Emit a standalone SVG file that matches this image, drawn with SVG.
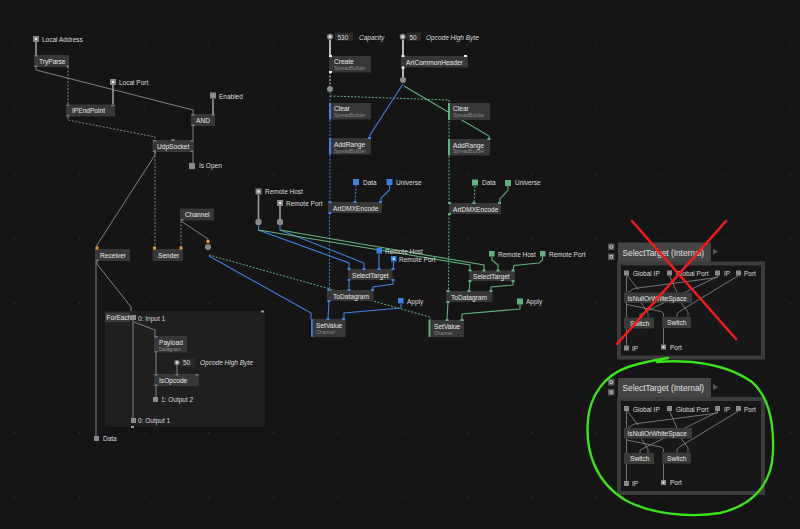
<svg xmlns="http://www.w3.org/2000/svg" width="800" height="529" viewBox="0 0 800 529">
<defs>
<pattern id="grid" x="-17.3" y="12.7" width="64.6" height="64.6" patternUnits="userSpaceOnUse">
<rect x="31.8" y="31.8" width="1.1" height="1.1" fill="#3a3a3a"/>
</pattern>
<style>
.n{fill:#373737}
.t{font-family:"Liberation Sans",Arial,sans-serif;font-size:6.6px;fill:#e8e8e8}
.s{font-family:"Liberation Sans",Arial,sans-serif;font-size:5px;fill:#8a8a8a}
.l{font-family:"Liberation Sans",Arial,sans-serif;font-size:6.5px;fill:#dcdcdc}
.it{font-style:italic}
.io{fill:#8a8a8a}
.iob{fill:#3f7fe0}
.iog{fill:#62b07e}
.dot{fill:#f0f0f0}
.p{fill:#7a7a7a}
.pw{fill:#f0f0f0}
.pb{fill:#3f7fe0}
.pg{fill:#62b07e}
.po{fill:#e8a020}
.w{fill:none;stroke:#8c8c8c;stroke-width:0.9}
.wt{fill:none;stroke:#9a9a9a;stroke-width:1.6}
.wv{fill:none;stroke:#c8c8c8;stroke-width:1.8}
.wd{fill:none;stroke:#8c8c8c;stroke-width:0.9;stroke-dasharray:2 1.5}
.wdw{fill:none;stroke:#dcdcdc;stroke-width:1;stroke-dasharray:2 1.5}
.b{fill:none;stroke:#3f7fe0;stroke-width:1.1}
.bd{fill:none;stroke:#3f7fe0;stroke-width:1;stroke-dasharray:2 1.5}
.g{fill:none;stroke:#62b07e;stroke-width:1.1}
.gd{fill:none;stroke:#62b07e;stroke-width:1;stroke-dasharray:2 1.5}
.pw2{fill:none;stroke:#8a8a8a;stroke-width:0.8}
.val{fill:#2a2a2a}
.circ{fill:#8a8a8a}
</style>
</defs>
<rect width="800" height="529" fill="#151515"/>
<rect width="800" height="529" fill="url(#grid)"/>

<!-- ForEach region background -->
<g id="foreach-region">
<rect x="105" y="311" width="160" height="116" fill="#1f1f1f"/>
<rect x="261" y="310.5" width="3" height="2" fill="#9a9a9a"/>
<rect x="131" y="426" width="3" height="2" fill="#9a9a9a"/>
</g>

<g id="connectors">
<path class="wt" d="M36,42 V55"/>
<path class="w" d="M36,67 V70 L193,110 V114"/>
<path class="wd" d="M68,67 V104"/>
<path class="wt" d="M113,85 V104"/>
<path class="wd" d="M68,117 V120 L155,137 V140"/>
<path class="wt" d="M213,99 V114"/>
<path class="w" d="M193,126 V140"/>
<path class="w" d="M193,152 V163"/>
<path class="w" d="M155,152 V155 L97,245 V248"/>
<path class="wd" d="M155,152 V248"/>
<path class="wd" d="M181,221 V248"/>
<path class="w" d="M181,221 L208,239 V241"/>
<path class="w" d="M97,261 V264 L131,307 V311"/>
<path class="w" d="M96,261 V436"/>
<path class="w" d="M133,320 V418"/>
<path class="w" d="M134,322 L155,330 V336"/>
<path class="w" d="M156,352 V374"/>
<path class="w" d="M177,365 V374"/>
<path class="w" d="M156,386 V397"/>
<path class="gd" d="M209,255 L430,317 V320"/>
<path class="b" d="M209,256 L311,313 V319"/>
<path class="wv" d="M330,40 V56"/>
<path class="wdw" d="M330,72 V86"/>
<path class="bd" d="M330,92 V202"/>
<path class="bd" d="M329.5,213 V290"/>
<path class="gd" d="M330,96 L449,100 V203"/>
<path class="gd" d="M449,214 L448.5,291"/>
<path class="wv" d="M403,40 V56"/>
<path class="wv" d="M403,67.5 V77"/>
<path class="b" d="M403,84 L370,135 V138"/>
<path class="g" d="M404,86 L489,136 V139"/>
<path class="bd" d="M356,185 L355,202"/>
<path class="b" d="M389.5,185 V190 L381,198 V202"/>
<path class="gd" d="M475,186 L474,203"/>
<path class="g" d="M508,186 V190 L500,199 V203"/>
<path class="wt" d="M258.5,195 V219"/>
<path class="wt" d="M280,206 V219"/>
<path class="b" d="M258.5,225 V230 L349,263 V269"/>
<path class="b" d="M280,225 V230 L364,263 V269"/>
<path class="g" d="M258.5,230 L470,265 V270.5"/>
<path class="g" d="M280,230 L484,265 V270.5"/>
<path class="b" d="M379,253.5 V269"/>
<path class="b" d="M393.5,261 V269"/>
<path class="b" d="M349,280 V290"/>
<path class="b" d="M393,280 V284 L373,287 V290"/>
<path class="b" d="M401,304 V308 L344,313 V319"/>
<path class="b" d="M329,301 L328,319"/>
<path class="g" d="M492,256.5 V260 L498,265 V270.5"/>
<path class="g" d="M542.5,256.5 V260 L539,263 L514,265.5 L513,270.5"/>
<path class="g" d="M470,281 L469,291"/>
<path class="g" d="M513,281 V285 L491,287 V291"/>
<path class="g" d="M520,304.5 V309 L462,314 V320"/>
<path class="g" d="M448,302 L447,320"/>
</g>

<g id="local-address"><rect class="io" x="33" y="36" width="6" height="6"/><rect class="dot" x="35" y="38" width="2" height="2"/><text class="l" x="42" y="41.5">Local Address</text></g>
<g id="tryparse"><rect class="n" x="34" y="55" width="35" height="12"/><rect class="p" x="34.5" y="55" width="3" height="1.5"/><rect class="p" x="34.5" y="65.5" width="3" height="1.5"/><rect class="p" x="66" y="65.5" width="3" height="1.5"/><text class="t" x="39" y="63.5">TryParse</text></g>
<g id="local-port"><rect class="io" x="110" y="79" width="6" height="6"/><rect class="dot" x="112" y="81" width="2" height="2"/><text class="l" x="119" y="84.5">Local Port</text></g>
<g id="ipendpoint"><rect class="n" x="66" y="104.5" width="49" height="12"/><rect class="p" x="66.5" y="104.5" width="3" height="1.5"/><rect class="p" x="111.5" y="104.5" width="3" height="1.5"/><rect class="p" x="66.5" y="115" width="3" height="1.5"/><text class="t" x="72" y="113">IPEndPoint</text></g>
<g id="enabled"><rect class="io" x="210" y="92.5" width="6" height="6"/><text class="l" x="219" y="98.5">Enabled</text></g>
<g id="and"><rect class="n" x="191" y="114" width="24" height="12"/><rect class="p" x="191.5" y="114" width="3" height="1.5"/><rect class="p" x="211.5" y="114" width="3" height="1.5"/><rect class="p" x="191.5" y="124.5" width="3" height="1.5"/><text class="t" x="196" y="122.5">AND</text></g>
<g id="udpsocket"><rect class="n" x="152.5" y="140" width="41.5" height="12"/><rect class="p" x="153" y="140" width="3" height="1.5"/><rect class="p" x="171.5" y="139" width="3" height="2"/><rect class="p" x="190.5" y="140" width="3" height="1.5"/><rect class="p" x="153" y="150.5" width="3" height="1.5"/><rect class="p" x="190.5" y="150.5" width="3" height="1.5"/><text class="t" x="157" y="149">UdpSocket</text></g>
<g id="is-open"><rect class="io" x="189" y="163" width="6" height="6"/><text class="l" x="199" y="168">Is Open</text></g>
<g id="channel"><rect class="n" x="180" y="208.5" width="34" height="12"/><rect class="p" x="180.5" y="219" width="3" height="1.5"/><text class="t" x="185" y="217">Channel</text></g>
<g id="channel-pad"><rect class="po" x="206.5" y="240" width="3" height="3"/><circle class="circ" cx="208" cy="247" r="3"/></g>
<g id="receiver"><rect class="n" x="95" y="249" width="35" height="12"/><rect class="po" x="95.5" y="246.5" width="3" height="3"/><rect class="p" x="95.5" y="259.5" width="3" height="1.5"/><text class="t" x="100" y="257.5">Receiver</text></g>
<g id="sender"><rect class="n" x="152.5" y="249" width="30.5" height="12"/><rect class="po" x="153" y="246.5" width="3" height="3"/><rect class="po" x="179.5" y="246.5" width="3" height="3"/><text class="t" x="158" y="257.5">Sender</text></g>

<g id="foreach"><rect x="105" y="312.5" width="25.5" height="9.5" fill="#3a3a3a"/><text class="t" x="106.5" y="320" font-size="6px">ForEach</text></g>
<g id="input1"><rect class="io" x="131" y="315" width="5" height="5"/><text class="l" x="138" y="320.5">0: Input 1</text></g>
<g id="payload"><rect class="n" x="154" y="336" width="33" height="16.5"/><rect class="p" x="154.5" y="336" width="3" height="1.5"/><rect class="p" x="154.5" y="351" width="3" height="1.5"/><text class="t" x="159" y="344.5">Payload</text><text class="s" x="159" y="350.5">Datagram</text></g>
<g id="opcode-io"><circle class="circ" cx="177" cy="362.5" r="2.6"/><circle class="dot" cx="177" cy="362.5" r="1.1"/><rect class="val" x="180" y="358.5" width="15" height="8.5"/><text class="l" x="183" y="365.3">50</text><text class="l it" x="200" y="365.3">Opcode High Byte</text></g>
<g id="isopcode"><rect class="n" x="154" y="374" width="45" height="12"/><rect class="p" x="154.5" y="374" width="3" height="1.5"/><rect class="p" x="175.5" y="374" width="3" height="1.5"/><rect class="p" x="195.5" y="374" width="3" height="1.5"/><rect class="p" x="154.5" y="384.5" width="3" height="1.5"/><text class="t" x="159" y="382.5">IsOpcode</text></g>
<g id="output2"><rect class="io" x="153" y="397" width="5" height="5"/><text class="l" x="161" y="401.5">1: Output 2</text></g>
<g id="output1"><rect class="io" x="131" y="418" width="5" height="5"/><text class="l" x="138" y="423">0: Output 1</text></g>
<g id="data-out"><rect class="io" x="94" y="436" width="5" height="5"/><text class="l" x="103" y="441">Data</text></g>

<g id="capacity"><circle class="circ" cx="330" cy="36.7" r="3"/><circle class="dot" cx="330" cy="36.7" r="1.2"/><rect class="val" x="335" y="32.5" width="18" height="8.5"/><text class="l" x="337.5" y="39.5">530</text><text class="l it" x="359" y="39.5">Capacity</text></g>
<g id="create"><rect class="n" x="329" y="56" width="42" height="16.5"/><rect class="pw" x="329" y="55" width="3" height="2"/><rect class="pw" x="329" y="71" width="3" height="2"/><text class="t" x="334" y="64">Create</text><text class="s" x="334" y="70">SpreadBuilder</text></g>
<g id="create-pad"><circle class="circ" cx="330" cy="89" r="3"/></g>
<g id="opcode-hb"><circle class="circ" cx="402.7" cy="36.7" r="3"/><circle class="dot" cx="402.7" cy="36.7" r="1.2"/><rect class="val" x="406.5" y="32.5" width="14.5" height="8.5"/><text class="l" x="409.5" y="39.5">50</text><text class="l it" x="426" y="39.5">Opcode High Byte</text></g>
<g id="artcommonheader"><rect class="n" x="401" y="56" width="67" height="11.5"/><rect class="pw" x="401.5" y="55" width="3" height="2"/><rect class="pw" x="464" y="55" width="3" height="2"/><rect class="pw" x="401.5" y="66.5" width="3" height="2"/><text class="t" x="406" y="64.5">ArtCommonHeader</text></g>
<g id="ach-pad"><circle class="circ" cx="403" cy="80" r="3"/></g>

<g id="clear-b"><rect class="n" x="329" y="103" width="42" height="16.5"/><rect class="pb" x="329" y="103" width="2" height="16.5"/><text class="t" x="334" y="111">Clear</text><text class="s" x="334" y="117">SpreadBuilder</text></g>
<g id="addrange-b"><rect class="n" x="329" y="138" width="42" height="16.5"/><rect class="pb" x="329" y="138" width="2" height="16.5"/><rect class="pb" x="368" y="137" width="3" height="2"/><text class="t" x="334" y="146.5">AddRange</text><text class="s" x="334" y="152.5">SpreadBuilder</text></g>
<g id="clear-g"><rect class="n" x="449" y="103" width="41" height="17"/><rect class="pg" x="448" y="103" width="2" height="17"/><text class="t" x="453" y="111">Clear</text><text class="s" x="453" y="117">SpreadBuilder</text></g>
<g id="addrange-g"><rect class="n" x="449" y="139" width="41" height="16.5"/><rect class="pg" x="448" y="139" width="2" height="16.5"/><rect class="pg" x="487.5" y="138" width="3" height="2"/><text class="t" x="453" y="147.5">AddRange</text><text class="s" x="453" y="153">SpreadBuilder</text></g>

<g id="data-b"><rect class="iob" x="353" y="179" width="6" height="6"/><text class="l" x="363" y="184.5">Data</text></g>
<g id="universe-b"><rect class="iob" x="386.5" y="179" width="6" height="6"/><text class="l" x="396" y="184.5">Universe</text></g>
<g id="artdmx-b"><rect class="n" x="328" y="202" width="54" height="11"/><rect class="pb" x="328.5" y="201" width="3" height="2"/><rect class="pb" x="353.5" y="201" width="3" height="2"/><rect class="pb" x="379" y="201" width="3" height="2"/><rect class="pb" x="328.5" y="212" width="3" height="2"/><text class="t" x="333" y="210.5">ArtDMXEncode</text></g>
<g id="data-g"><rect class="iog" x="472" y="179.5" width="6" height="6"/><text class="l" x="482" y="185">Data</text></g>
<g id="universe-g"><rect class="iog" x="505" y="180" width="6" height="6"/><text class="l" x="515" y="185">Universe</text></g>
<g id="artdmx-g"><rect class="n" x="449" y="203" width="52" height="11"/><rect class="pg" x="448" y="202" width="3" height="2"/><rect class="pg" x="472.5" y="202" width="3" height="2"/><rect class="pg" x="498" y="202" width="3" height="2"/><rect class="pg" x="448" y="213" width="3" height="2"/><text class="t" x="453" y="211.5">ArtDMXEncode</text></g>

<g id="remote-host"><rect class="io" x="255.5" y="188.5" width="6" height="6"/><rect class="dot" x="257.5" y="190.5" width="2" height="2"/><text class="l" x="265" y="193.5">Remote Host</text></g>
<g id="remote-port"><rect class="io" x="277" y="200" width="6" height="6"/><rect class="dot" x="279" y="202" width="2" height="2"/><text class="l" x="286" y="205.5">Remote Port</text></g>
<g id="rh-pad"><circle class="circ" cx="258.5" cy="222" r="3.2"/></g>
<g id="rp-pad"><circle class="circ" cx="280" cy="222" r="3.2"/></g>

<g id="rh-b"><rect class="iob" x="376.5" y="248" width="5.5" height="5.5"/><text class="l" x="385" y="253.5">Remote Host</text></g>
<g id="rp-b"><rect class="iob" x="391" y="256" width="5.5" height="5.5"/><rect class="dot" x="392.8" y="257.8" width="2" height="2"/><text class="l" x="399" y="261.5">Remote Port</text></g>
<g id="selecttarget-b"><rect class="n" x="348" y="269" width="44.5" height="11"/><rect class="pb" x="347.5" y="268" width="3" height="2"/><rect class="pb" x="362.5" y="268" width="3" height="2"/><rect class="pb" x="377.5" y="268" width="3" height="2"/><rect class="pb" x="391.5" y="268" width="3" height="2"/><rect class="pb" x="347.5" y="279" width="3" height="2"/><rect class="pb" x="391.5" y="279" width="3" height="2"/><text class="t" x="352" y="277.5">SelectTarget</text></g>
<g id="todatagram-b"><rect class="n" x="327" y="290" width="46.5" height="11"/><rect class="pb" x="327.5" y="289" width="3" height="2"/><rect class="pb" x="347.5" y="289" width="3" height="2"/><rect class="pb" x="371" y="289" width="3" height="2"/><rect class="pb" x="327.5" y="300" width="3" height="2"/><text class="t" x="333" y="298.5">ToDatagram</text></g>
<g id="apply-b"><rect class="iob" x="398" y="298" width="5.5" height="5.5"/><text class="l" x="407" y="303.5">Apply</text></g>
<g id="setvalue-b"><rect class="n" x="311.5" y="319" width="34" height="18"/><rect class="pb" x="311" y="319" width="1.8" height="18"/><rect class="pb" x="326.5" y="318" width="3" height="2"/><rect class="pb" x="342" y="318" width="3" height="2"/><text class="t" x="316" y="327.5">SetValue</text><text class="s" x="316" y="334">Channel</text></g>

<g id="rh-g"><rect class="iog" x="489" y="251" width="5.5" height="5.5"/><text class="l" x="498" y="256.5">Remote Host</text></g>
<g id="rp-g"><rect class="iog" x="540" y="251" width="5.5" height="5.5"/><text class="l" x="549" y="256.5">Remote Port</text></g>
<g id="selecttarget-g"><rect class="n" x="469" y="270.5" width="46" height="10.5"/><rect class="pg" x="468.5" y="269.5" width="3" height="2"/><rect class="pg" x="482.5" y="269.5" width="3" height="2"/><rect class="pg" x="496.5" y="269.5" width="3" height="2"/><rect class="pg" x="511.5" y="269.5" width="3" height="2"/><rect class="pg" x="468.5" y="280" width="3" height="2"/><rect class="pg" x="511.5" y="280" width="3" height="2"/><text class="t" x="473" y="278.5">SelectTarget</text></g>
<g id="todatagram-g"><rect class="n" x="446" y="291" width="46.5" height="11"/><rect class="pg" x="446.5" y="290" width="3" height="2"/><rect class="pg" x="467.5" y="290" width="3" height="2"/><rect class="pg" x="489.5" y="290" width="3" height="2"/><rect class="pg" x="446.5" y="301" width="3" height="2"/><text class="t" x="451" y="299.5">ToDatagram</text></g>
<g id="apply-g"><rect class="iog" x="517" y="298.5" width="6" height="6"/><text class="l" x="526" y="303.5">Apply</text></g>
<g id="setvalue-g"><rect class="n" x="429" y="320" width="35" height="17"/><rect class="pg" x="428.5" y="320" width="1.8" height="17"/><rect class="pg" x="445.5" y="319" width="3" height="2"/><rect class="pg" x="460.5" y="319" width="3" height="2"/><text class="t" x="434" y="328.5">SetValue</text><text class="s" x="434" y="334.5">Channel</text></g>

<defs>
<g id="panel">
<rect x="608" y="379" width="6.5" height="6.5" fill="#555"/><circle cx="611.2" cy="382.2" r="1.6" fill="none" stroke="#ddd" stroke-width="0.8"/>
<rect x="608" y="389" width="6.5" height="6.5" fill="#555"/><rect x="610" y="391" width="2.5" height="2.5" fill="none" stroke="#ddd" stroke-width="0.7"/>
<rect x="618" y="378" width="93" height="20" fill="#454545"/>
<text x="622.5" y="391" font-family="Liberation Sans, Arial, sans-serif" font-size="8.3px" fill="#e0e0e0">SelectTarget (Internal)</text>
<path d="M713,384 L718,387 L713,390 Z" fill="#555"/>
<rect x="619" y="399" width="144" height="94" fill="#171717" stroke="#3c3c3c" stroke-width="4"/>
<path class="pw2" d="M626.5,411 V428"/>
<path class="pw2" d="M627.5,411 L638,425 M641,438 L648,449 V453"/>
<path class="pw2" d="M717.5,411 V413 L634,424 L628,428"/>
<path class="pw2" d="M717.5,412 L646,447 L640,450 V453"/>
<path class="pw2" d="M669.5,411 L677,428 M681,438 L688,448 V452"/>
<path class="pw2" d="M738.5,411 L681,446 L677,449 V452"/>
<path class="pw2" d="M626.5,438 V453"/>
<path class="pw2" d="M627,440 L661,447 L663.5,449 V452"/>
<path class="pw2" d="M626.5,464 V481"/>
<path class="pw2" d="M663.5,463.5 V480"/>
<rect class="io" x="624" y="406" width="5" height="5"/><text class="l" x="633" y="411.5" font-size="6.3px">Global IP</text>
<rect class="io" x="667" y="406" width="5" height="5"/><text class="l" x="676" y="411.5" font-size="6.3px">Global Port</text>
<rect class="io" x="715" y="406" width="5" height="5"/><text class="l" x="724" y="411.5" font-size="6.3px">IP</text>
<rect class="io" x="736" y="406" width="5" height="5"/><text class="l" x="744" y="411.5" font-size="6.3px">Port</text>
<rect x="624" y="428" width="68" height="10.5" fill="#3a3a3a"/><text class="t" x="627.5" y="436">IsNullOrWhiteSpace</text>
<rect x="624" y="453" width="30" height="11" fill="#3a3a3a"/><text class="t" x="630" y="461">Switch</text>
<rect x="662" y="452.5" width="29" height="11" fill="#3a3a3a"/><text class="t" x="667" y="460.5">Switch</text>
<rect class="io" x="624" y="481" width="5" height="5"/><text class="l" x="632" y="486" font-size="6.3px">IP</text>
<rect class="io" x="661" y="480" width="5" height="5"/><rect class="dot" x="662.6" y="481.6" width="1.8" height="1.8"/><text class="l" x="670" y="485" font-size="6.3px">Port</text>
</g>
</defs>
<g id="selecttarget-internal-top"><use href="#panel" transform="translate(0,-135.5)"/></g>
<g id="selecttarget-internal-bottom"><use href="#panel"/></g>

<g id="red-x" stroke="#f01c1c" stroke-width="2.5" stroke-linecap="round" fill="none">
<path d="M632,221 L736,339"/>
<path d="M726,221 L617,344"/>
</g>
<g id="green-loop">
<path d="M668,358 C655,360 640,363 628,367 C605,375 590,395 588,420 C585,452 596,482 625,500 C650,514 690,518 720,513 C755,505 772,482 773,452 C774,422 768,396 752,382 C735,370 712,364 692,362 C678,361 667,361 657,362" fill="none" stroke="#3ee11e" stroke-width="2.4" stroke-linecap="round"/>
</g>
</svg>
